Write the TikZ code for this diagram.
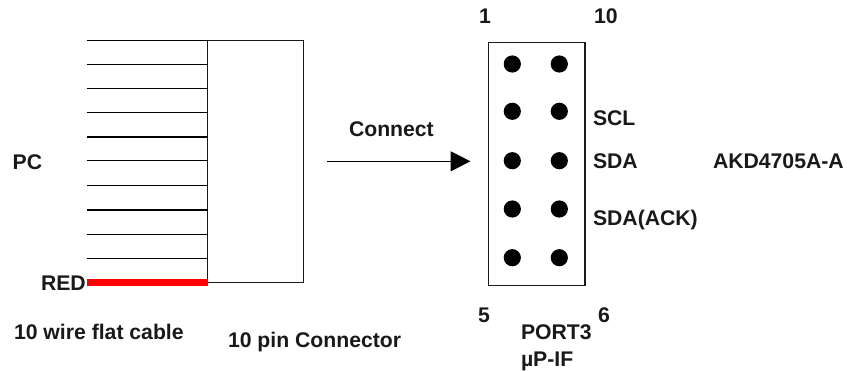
\documentclass[tikz,border=0pt]{standalone}
\usepackage{fontspec}
\setmainfont{Liberation Sans}
\usetikzlibrary{arrows.meta}
\tikzset{
  x=0.75pt,y=-0.75pt,
  lbl/.style={anchor=base west,inner sep=0pt,outer sep=0pt,font=\fontsize{15.9}{18}\selectfont\bfseries,text=black!90},
  wire/.style={draw=black,line width=0.9pt},
  boxline/.style={draw=black!90,line width=0.9pt},
  redwire/.style={draw=red,line width=5.6pt},
  pin/.style={circle,fill=black,draw=none,minimum size=12.9pt,inner sep=0pt,outer sep=0pt},
  conn/.style={draw=black,line width=0.9pt,-{Triangle[length=15pt,width=15pt]}}
}
\begin{document}
\begin{tikzpicture}
\useasboundingbox (0,0) rectangle (847,371);
% flat cable and 10 pin connector
\coordinate (ctl) at (207.5,40.3);
\coordinate (cbr) at (303.5,282.7);
\draw[boxline] (ctl) rectangle (cbr);
\foreach \n/\y in {1/40.3,2/64.3,3/88.3,4/112.7,5/137,6/160.3,7/185.5,8/210,9/234.3,10/258.3}{
  \coordinate (wl\n) at (86.5,\y);
  \coordinate (wr\n) at (207.5,\y);
  \draw[wire] (wl\n) -- (wr\n);
}
\coordinate (redl) at (86.5,282.7);
\coordinate (redr) at (207.5,282.7);
\draw[redwire] (redl) -- (redr);
% port
\coordinate (ptl) at (488.5,42.3);
\coordinate (pbr) at (585,285.3);
\draw[boxline] (ptl) rectangle (pbr);
\foreach \r/\y in {1/64,2/111.3,3/160.7,4/209,5/257.7}{
  \node[pin] (pa\r) at (512.3,\y) {};
  \node[pin] (pb\r) at (559.3,\y) {};
}
% arrow
\coordinate (as) at (327,161.3);
\coordinate (ae) at (470.5,161.3);
\draw[conn] (as) -- (ae);
% labels
\node[lbl] (pc) at (12.7,169) {PC};
\node[lbl] (red) at (41,290.7) {RED};
\node[lbl] (cable) at (14,339) {10 wire flat cable};
\node[lbl] (pinconn) at (228,347) {10 pin Connector};
\node[lbl] (connect) at (349,136) {Connect};
\node[lbl] (scl) at (593,125) {SCL};
\node[lbl] (sda) at (593,168.7) {SDA};
\node[lbl] (ack) at (593,225) {SDA(ACK)};
\node[lbl] (akd) at (713,168.7) {AKD4705A-A};
\node[lbl] (n1) at (479,23) {1};
\node[lbl] (n10) at (594,23) {10};
\node[lbl] (n5) at (478,322.7) {5};
\node[lbl] (n6) at (598,322.7) {6};
\node[lbl] (port) at (521,339) {PORT3};
\node[lbl] (mup) at (521,366.7) {µP-IF};
\end{tikzpicture}
\end{document}
